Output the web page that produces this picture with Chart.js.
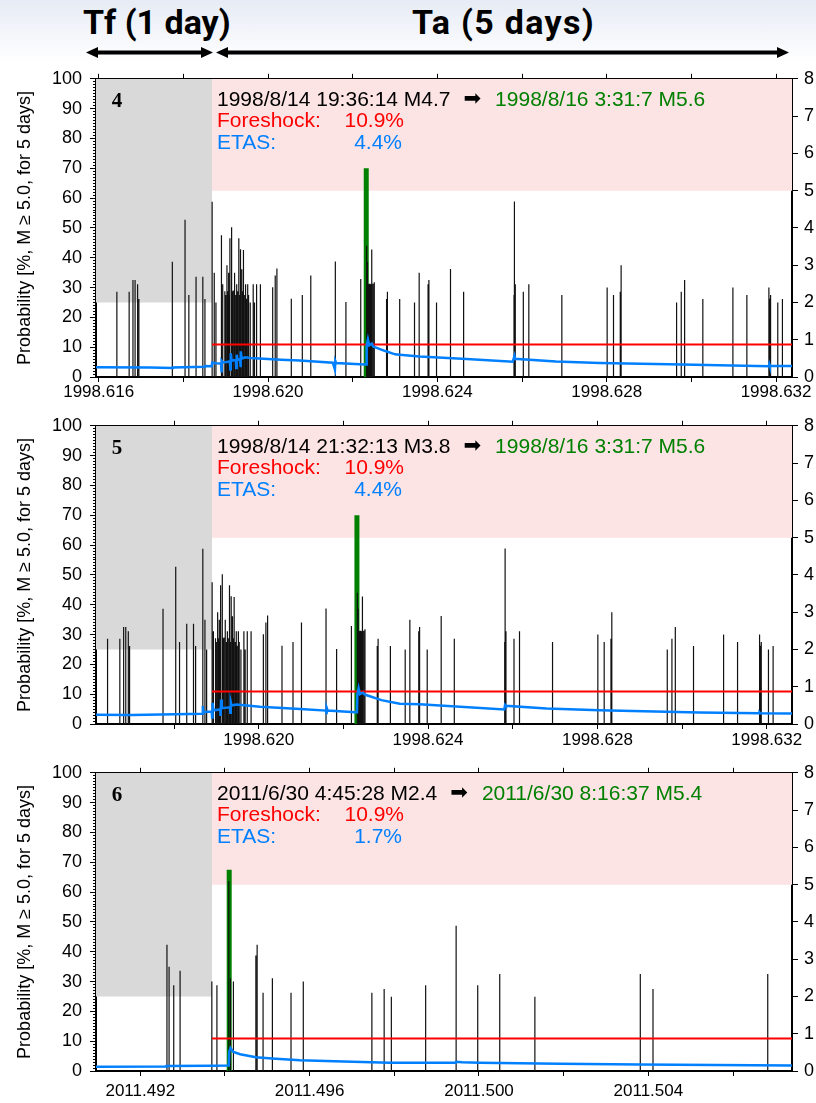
<!DOCTYPE html>
<html lang="en">
<head>
<meta charset="UTF-8" />
<title>Foreshock probability, cases 4-6</title>
<script src="https://cdn.jsdelivr.net/npm/chart.js@4.4.1/dist/chart.umd.min.js"></script>
<style>
  body { margin: 0; width: 816px; height: 1103px; position: relative; overflow: hidden;
         background: linear-gradient(#e6ebf5 0px, #ffffff 62px); }
  .head { position: absolute; top: 5px; font: bold 34px Roboto, sans-serif; line-height: 1; color: #000; }
  canvas { position: absolute; left: 0; }
</style>
</head>
<body>
<div class="head" style="left:83px">Tf (1 day)</div>
<div class="head" style="left:412px;letter-spacing:1.3px">Ta (5 days)</div>
<svg style="position:absolute;left:0;top:40px" width="816" height="26">
  <g fill="#000" stroke="#000">
    <line x1="95" y1="12.5" x2="205" y2="12.5" stroke-width="4" />
    <polygon points="86,12.5 98,7 98,18" stroke="none" />
    <polygon points="213,12.5 201,7 201,18" stroke="none" />
    <line x1="224" y1="12.5" x2="780" y2="12.5" stroke-width="4" />
    <polygon points="216,12.5 228,7 228,18" stroke="none" />
    <polygon points="789,12.5 777,7 777,18" stroke="none" />
  </g>
</svg>
<canvas id="c4" width="816" height="347" style="top:60px"></canvas>
<canvas id="c5" width="816" height="347" style="top:407px"></canvas>
<canvas id="c6" width="816" height="347" style="top:754px"></canvas>

<script>
// window limits [start, end of Tf, end of Ta] in decimal years
const range4 = [1998.615937, 1998.618677, 1998.632376];
const range5 = [1998.616157, 1998.618897, 1998.632596];
const range6 = [2011.490954, 2011.493694, 2011.507393];

// earthquakes 1998 (used by panels 4 and 5): time, magnitude
const quakeT98 = [
  1998.61643, 1998.61672, 1998.61681, 1998.61686, 1998.61692, 1998.61695,
  1998.61774, 1998.61804, 1998.61813, 1998.61830, 1998.61846, 1998.61851,
  1998.61868, 1998.61873, 1998.61877, 1998.61890, 1998.61893,
  1998.61898, 1998.61900, 1998.61903, 1998.61905, 1998.61907, 1998.61909,
  1998.61910, 1998.61914, 1998.61916, 1998.61918, 1998.61921, 1998.61924,
  1998.61926, 1998.61928, 1998.61931, 1998.61933, 1998.61935, 1998.61938,
  1998.61940, 1998.61942, 1998.61945, 1998.61947, 1998.61949, 1998.61952,
  1998.61954, 1998.61958, 1998.61965, 1998.61968, 1998.61973, 1998.61982,
  1998.62011, 1998.62017, 1998.62021, 1998.62055, 1998.62081, 1998.62101,
  1998.62159, 1998.62184, 1998.62219,
  1998.62233, 1998.62235, 1998.62237, 1998.62239, 1998.62241, 1998.62243,
  1998.62245, 1998.62248, 1998.62251,
  1998.62280, 1998.62282, 1998.62311, 1998.62346, 1998.62357, 1998.62378,
  1998.62380, 1998.62398, 1998.62431, 1998.62462, 1998.62581, 1998.62582,
  1998.62584, 1998.62603, 1998.62616, 1998.62694, 1998.62801, 1998.62816,
  1998.62832, 1998.62834, 1998.62965, 1998.62976, 1998.62984, 1998.63027,
  1998.63098, 1998.63131, 1998.63183, 1998.63185, 1998.63187, 1998.63204,
  1998.63215
];
const quakeM98 = [
  2.29, 2.29, 2.60, 2.60, 2.49, 2.09,
  3.09, 4.22, 2.20, 2.69, 2.69, 2.09,
  4.70, 2.80, 2.00, 3.80, 2.49,
  2.30, 2.20, 3.00, 2.30, 2.80, 2.20,
  3.72, 4.02, 2.30, 2.32, 2.80, 2.20,
  2.49, 2.30, 3.72, 2.20, 3.43, 2.89,
  2.30, 3.41, 2.20, 2.49, 2.10, 2.49,
  2.20, 2.00, 2.49, 2.00, 2.49, 2.49,
  2.41, 2.72, 2.91, 2.10, 2.20, 2.72,
  3.10, 2.01, 2.63,
  3.52, 3.09, 2.49, 2.50, 2.50, 2.49,
  3.42, 2.50, 2.54,
  2.09, 2.29, 2.09, 2.00, 2.80, 2.49,
  2.60, 2.00, 2.90, 2.29, 2.20, 4.71,
  2.49, 2.29, 2.49, 2.20, 2.40, 2.20,
  2.29, 3.00, 2.00, 2.29, 2.60, 2.09,
  2.40, 2.20, 2.40, 2.10, 2.20, 2.00,
  2.09
];

// earthquakes 2011 (panel 6)
const quakeT11 = [
  2011.49263, 2011.49268, 2011.49279, 2011.49294, 2011.49369, 2011.49381,
  2011.49409, 2011.49413, 2011.49420, 2011.49473, 2011.49476, 2011.49490,
  2011.49512, 2011.49556, 2011.49585, 2011.49747, 2011.49776, 2011.49793,
  2011.49874, 2011.49946, 2011.49997, 2011.50049, 2011.50132, 2011.50381,
  2011.50411, 2011.50682
];
const quakeM11 = [
  3.39, 2.80, 2.30, 2.69, 2.40, 2.30,
  5.10, 2.49, 2.40, 3.10, 3.39, 2.10,
  2.49, 2.10, 2.40, 2.10, 2.20, 1.99,
  2.30, 3.90, 2.30, 2.60, 1.99, 2.60,
  2.20, 2.60
];

// target mainshocks
const main4 = [1998.62232, 5.6];
const main5 = [1998.62232, 5.6];
const main6 = [2011.49410, 5.4];

// foreshock probability [%]
const foreshockP = 10.9;

// ETAS probability curves [%]
const etasT4 = [
  1998.61594, 1998.61722, 1998.61774, 1998.61775, 1998.61851, 1998.61852,
  1998.61867, 1998.61868, 1998.61877, 1998.61889, 1998.61890, 1998.61891,
  1998.61893, 1998.61902, 1998.61910, 1998.61911, 1998.61912, 1998.61914,
  1998.61918, 1998.61924, 1998.61925, 1998.61926, 1998.61928, 1998.61934,
  1998.61935, 1998.61936, 1998.61938, 1998.61947, 1998.61958, 1998.62031,
  1998.62075, 1998.62153, 1998.62158, 1998.62159, 1998.62161, 1998.62217,
  1998.62232, 1998.62233, 1998.62236, 1998.62239, 1998.62245, 1998.62248,
  1998.62252, 1998.62277, 1998.62300, 1998.62311, 1998.62358, 1998.62469,
  1998.62578, 1998.62582, 1998.62583, 1998.62680, 1998.62783, 1998.62978,
  1998.63183, 1998.63184, 1998.63185, 1998.63238
];
const etasP4 = [
  3.3, 3.2, 3.0, 3.2, 3.4, 3.7,
  3.6, 4.8, 4.6, 4.5, 1.5, 5.4,
  4.9, 5.0, 5.2, 2.5, 8.0, 5.4,
  5.6, 5.6, 3.0, 7.5, 5.8, 5.9,
  3.3, 8.6, 6.2, 6.6, 6.4, 5.8,
  5.5, 4.8, 2.5, 5.4, 4.7, 4.3,
  4.2, 10.5, 12.6, 10.6, 11.2, 10.3,
  10.0, 8.7, 7.6, 7.5, 6.9, 6.0,
  5.1, 7.0, 6.1, 5.2, 4.7, 4.2,
  3.6, 4.3, 3.8, 3.7
];
const etasT5 = [
  1998.61616, 1998.61700, 1998.61803, 1998.61867, 1998.61868, 1998.61869,
  1998.61889, 1998.61890, 1998.61891, 1998.61893, 1998.61909, 1998.61910,
  1998.61911, 1998.61913, 1998.61932, 1998.61933, 1998.61934, 1998.61936,
  1998.61947, 1998.62003, 1998.62098, 1998.62159, 1998.62160, 1998.62161,
  1998.62163, 1998.62228, 1998.62232, 1998.62233, 1998.62236, 1998.62239,
  1998.62246, 1998.62252, 1998.62290, 1998.62333, 1998.62380, 1998.62580,
  1998.62582, 1998.62584, 1998.62680, 1998.62805, 1998.63040, 1998.63182,
  1998.63183, 1998.63185, 1998.63260
];
const etasP5 = [
  3.1, 3.0, 3.3, 3.4, 6.0, 4.0,
  4.2, 2.2, 7.1, 4.6, 4.9, 2.7,
  8.2, 5.3, 5.6, 3.8, 7.4, 6.2,
  6.5, 5.8, 5.0, 4.5, 3.3, 5.5,
  4.5, 3.9, 3.9, 9.8, 12.0, 10.0,
  10.5, 9.8, 8.0, 6.8, 6.6, 4.9,
  6.4, 6.1, 5.2, 4.6, 3.85, 3.6,
  3.9, 3.6, 3.5
];
const etasT6 = [
  2011.49095, 2011.49261, 2011.49262, 2011.49369, 2011.49409, 2011.49410,
  2011.49413, 2011.49420, 2011.49436, 2011.49473, 2011.49511, 2011.49577,
  2011.49680, 2011.49789, 2011.49945, 2011.49946, 2011.49960, 2011.50001,
  2011.50190, 2011.50378, 2011.50739
];
const etasP6 = [
  1.45, 1.5, 1.7, 1.75, 1.8, 6.5,
  7.7, 6.4, 5.6, 4.6, 4.2, 3.6,
  3.2, 2.8, 2.75, 3.1, 2.9, 2.75,
  2.4, 2.2, 1.85
];

Chart.defaults.font.family = '"Liberation Sans", Arial, sans-serif';
Chart.defaults.font.size = 18;
Chart.defaults.color = '#000';

const notes = {
  id: 'notes',
  afterDatasetsDraw(chart, args, o) {
    const { ctx, chartArea: a } = chart;
    ctx.save();
    ctx.textBaseline = 'middle';
    ctx.fillStyle = '#000';
    ctx.font = 'bold 21px "Liberation Serif"';
    ctx.textAlign = 'center';
    ctx.fillText(o.num, a.left + 21, a.top + 23);

    ctx.textAlign = 'left';
    const x0 = a.left + 121;
    let y = a.top + 21;
    ctx.font = '21px "Liberation Sans"';
    ctx.fillText(o.from, x0, y);
    let x = x0 + ctx.measureText(o.from).width + 13;
    ctx.font = '21px "DejaVu Sans"';
    ctx.fillText('\u27A1', x, y);
    x += ctx.measureText('\u27A1').width + 14;
    ctx.font = '21px "Liberation Sans"';
    ctx.fillStyle = '#008000';
    ctx.fillText(o.to, x, y);

    y = a.top + 42.5;
    ctx.fillStyle = '#ff0000';
    ctx.fillText('Foreshock:', x0, y);
    ctx.textAlign = 'right';
    ctx.fillText(o.fore, a.left + 308, y);

    y = a.top + 64.5;
    ctx.fillStyle = '#0080ff';
    ctx.textAlign = 'left';
    ctx.fillText('ETAS:', x0, y);
    ctx.textAlign = 'right';
    ctx.fillText(o.etas, a.left + 306, y);
    ctx.restore();
  }
};

function sticks(times, mags) {
  const pts = [];
  times.forEach((t, i) => {
    pts.push({ x: t, y: 0 }, { x: t, y: mags[i] }, { x: t, y: null });
  });
  return pts;
}

function tickAxis(pos, r, extra) {
  return Object.assign({
    type: 'linear', position: pos, min: r[0], max: r[2],
    grid: { drawOnChartArea: false, tickLength: 5, color: '#000' },
    border: { color: '#000', width: 2 }
  }, extra);
}

function makePanel(id, r, quakeT, quakeM, main, etasT, etasP, text, labelPad) {
  new Chart(document.getElementById(id), {
    type: 'line',
    data: {
      datasets: [
        { data: etasT.map((t, i) => ({ x: t, y: etasP[i] })), yAxisID: 'y',
          borderColor: '#0080ff', borderWidth: 2.5 },
        { data: [{ x: r[1], y: foreshockP }, { x: r[2], y: foreshockP }], yAxisID: 'y',
          borderColor: '#ff0000', borderWidth: 2 },
        { data: sticks(quakeT, quakeM), yAxisID: 'y2', borderColor: '#111', borderWidth: 1.2,
          spanGaps: false },
        { data: [{ x: main[0], y: 0 }, { x: main[0], y: main[1] }], yAxisID: 'y2',
          borderColor: '#008000', borderWidth: 5 },
        { data: [{ x: r[1], y: 100 }, { x: r[2], y: 100 }], yAxisID: 'y',
          borderWidth: 0, fill: { value: 62.5 }, backgroundColor: '#fde4e4' },
        { data: [{ x: r[0], y: 100 }, { x: r[1], y: 100 }], yAxisID: 'y',
          borderWidth: 0, fill: { value: 25 }, backgroundColor: '#d9d9d9' }
      ]
    },
    options: {
      responsive: false,
      animation: false,
      events: [],
      layout: { padding: { top: 8, left: 0, right: 0, bottom: 0 } },
      elements: { point: { radius: 0 }, line: { tension: 0, borderCapStyle: 'butt' } },
      plugins: { legend: { display: false }, tooltip: { enabled: false }, notes: text },
      scales: {
        x: tickAxis('bottom', r, {
          ticks: { stepSize: 0.002, includeBounds: false, autoSkip: false, maxRotation: 0,
            padding: labelPad, font: { size: 17 },
            callback: v => (Math.round(v * 1000) % 4 === 0 ? v.toFixed(3) : '') },
          afterFit: s => { s.height = 30; }
        }),
        x2: tickAxis('top', r, {
          ticks: { display: false, stepSize: 0.002, includeBounds: false },
          afterFit: s => { s.height = 5; }
        }),
        y: {
          position: 'left', min: 0, max: 100,
          ticks: { stepSize: 1, autoSkip: false, padding: 8,
            callback: v => (v % 10 === 0 ? v : '') },
          grid: { drawOnChartArea: false, tickLength: 6, color: '#000',
            tickBorderDash: c => (c.tick && c.tick.value % 10 === 0 ? [] : [0, 3, 2, 20]) },
          border: { color: '#000', width: 2 },
          title: { display: true, text: 'Probability [%, M \u2265 5.0, for 5 days]',
            padding: { top: 14, bottom: 0 } },
          afterFit: s => { s.width = 96; }
        },
        y2: {
          position: 'right', min: 0, max: 8,
          ticks: { stepSize: 1, padding: 6 },
          grid: { drawOnChartArea: false, tickLength: 6, color: '#000' },
          border: { color: '#000', width: 2 },
          afterFit: s => { s.width = 24; }
        }
      }
    },
    plugins: [notes]
  });
}

makePanel('c4', range4, quakeT98, quakeM98, main4, etasT4, etasP4,
  { num: '4', from: '1998/8/14 19:36:14 M4.7', to: '1998/8/16 3:31:7 M5.6', fore: '10.9%', etas: '4.4%' }, 0);
makePanel('c5', range5, quakeT98, quakeM98, main5, etasT5, etasP5,
  { num: '5', from: '1998/8/14 21:32:13 M3.8', to: '1998/8/16 3:31:7 M5.6', fore: '10.9%', etas: '4.4%' }, 1);
makePanel('c6', range6, quakeT11, quakeM11, main6, etasT6, etasP6,
  { num: '6', from: '2011/6/30 4:45:28 M2.4', to: '2011/6/30 8:16:37 M5.4', fore: '10.9%', etas: '1.7%' }, 5);
</script>
</body>
</html>
